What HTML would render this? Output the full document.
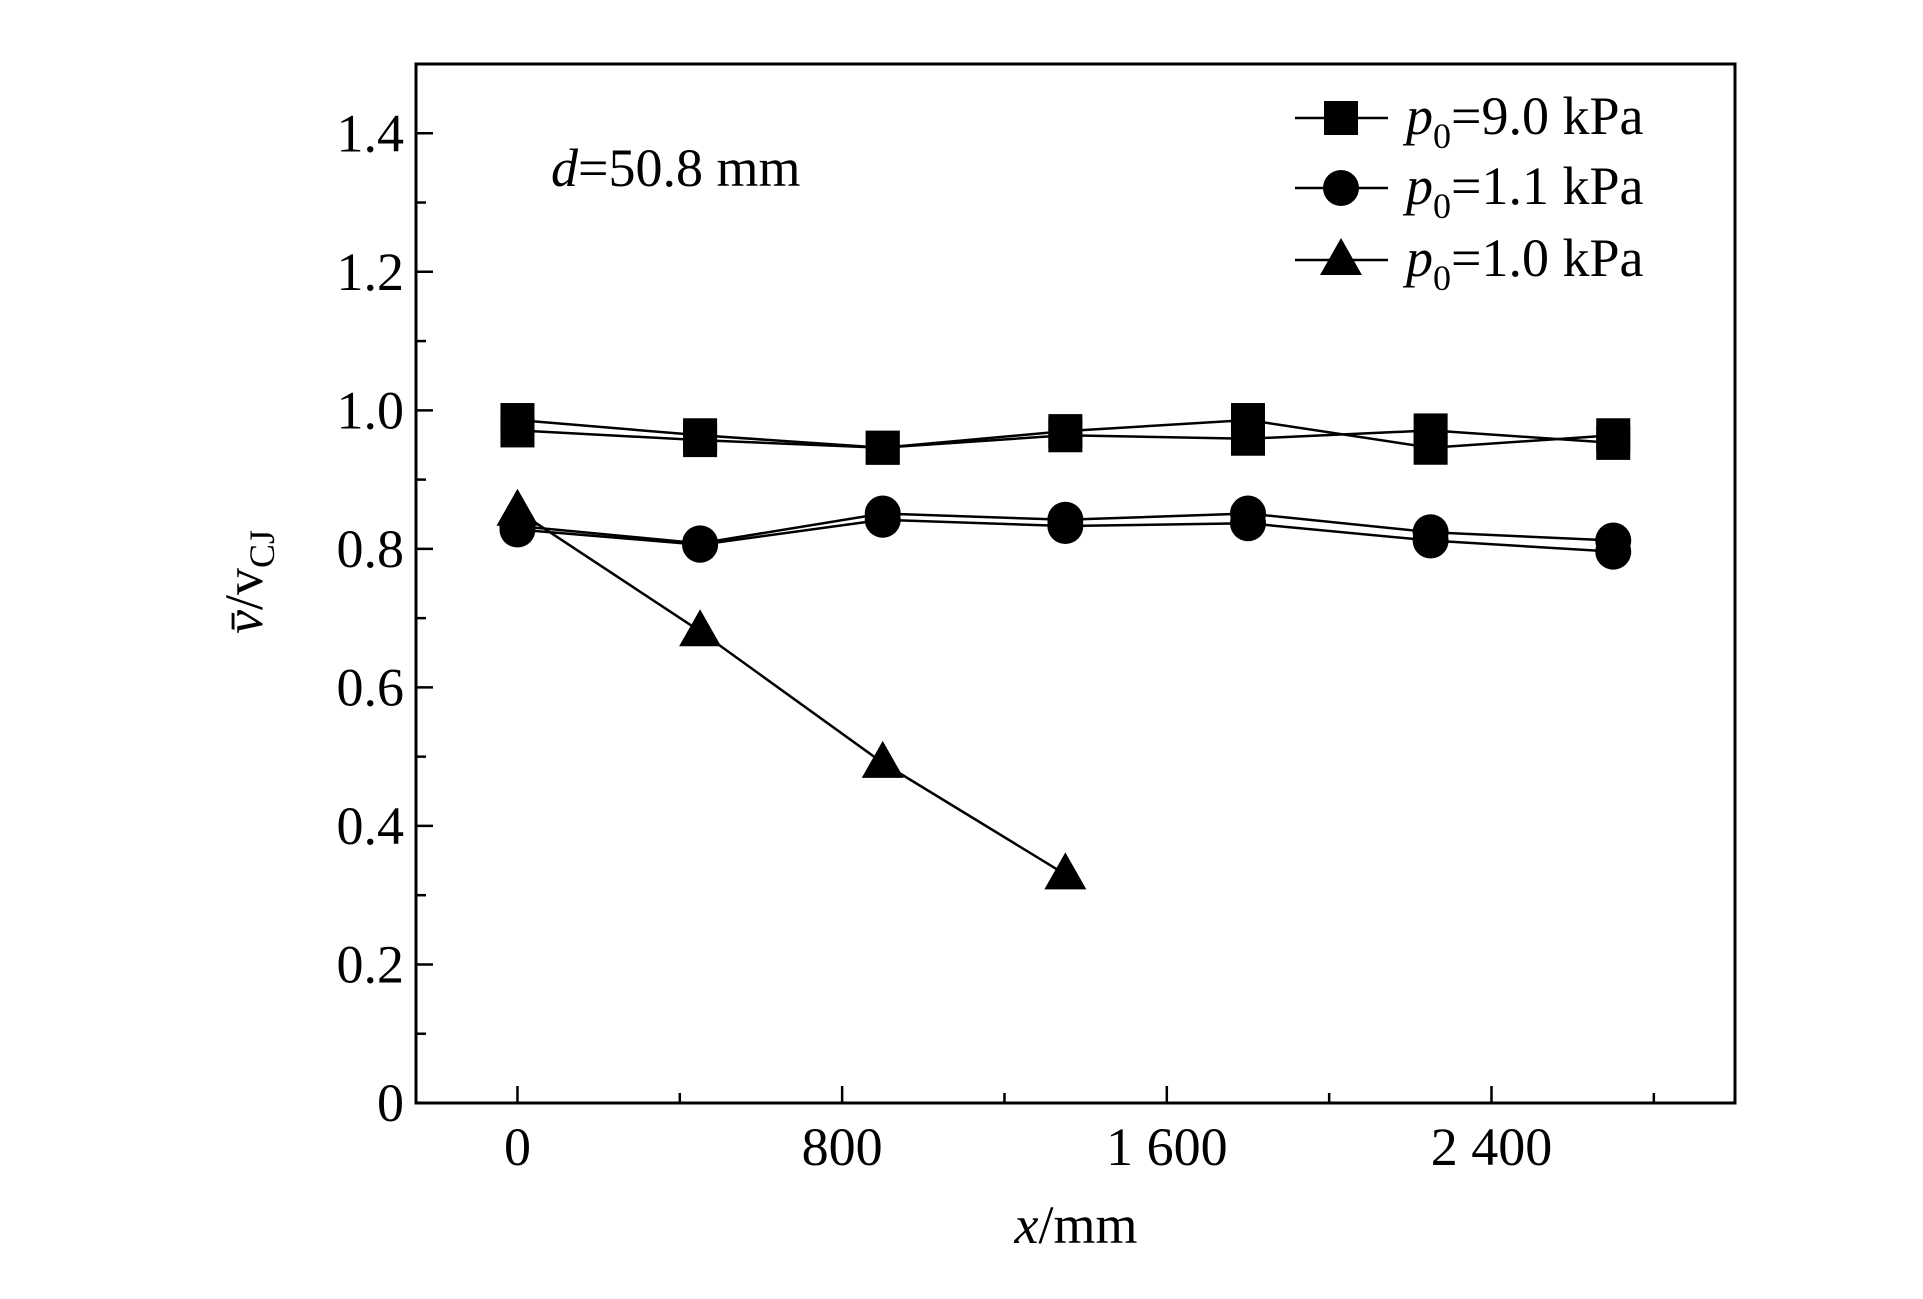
<!DOCTYPE html>
<html><head><meta charset="utf-8"><style>
html,body{margin:0;padding:0;background:#fff;}
svg{display:block;font-family:"Liberation Serif",serif;}
</style></head><body>
<svg id="chart" width="1923" height="1299" viewBox="0 0 1923 1299" xmlns="http://www.w3.org/2000/svg">
<rect x="0" y="0" width="1923" height="1299" fill="#fff"/>
<g id="marks"></g>
<g id="axes"></g>
<text x="551" y="186" font-size="54"><tspan font-style="italic">d</tspan>=50.8 mm</text>
<text x="1076" y="1243" font-size="54" text-anchor="middle"><tspan font-style="italic">x</tspan>/mm</text>
<g transform="translate(262,582) rotate(-90)">
<text x="0" y="0" font-size="54" text-anchor="middle"><tspan font-style="italic">v̄</tspan>/v<tspan font-size="36" dy="12">CJ</tspan></text>
</g>
<g id="legend"></g>
</svg>
<script>
const xValues = [0, 450, 900, 1350, 1800, 2250, 2700];
const sq9A = [0.986, 0.964, 0.946, 0.970, 0.986, 0.946, 0.964];
const sq9B = [0.971, 0.957, 0.946, 0.964, 0.959, 0.971, 0.953];
const ci11A = [0.833, 0.808, 0.851, 0.842, 0.851, 0.824, 0.812];
const ci11B = [0.828, 0.806, 0.842, 0.833, 0.837, 0.812, 0.796];
const triX = [0, 450, 900, 1350];
const tri10 = [0.855, 0.681, 0.491, 0.330];
const yTicks = [0, 0.2, 0.4, 0.6, 0.8, 1.0, 1.2, 1.4];
const yTickLabels = ["0", "0.2", "0.4", "0.6", "0.8", "1.0", "1.2", "1.4"];
const xTicks = [0, 800, 1600, 2400];
const xTickLabels = ["0", "800", "1 600", "2 400"];
const legendLabels = ["=9.0 kPa", "=1.1 kPa", "=1.0 kPa"];

const NS = "http://www.w3.org/2000/svg";
const L = 416, R = 1735, T = 64, B = 1103;
const xMin = -250, xMax = 3000, yMin = 0, yMax = 1.5;
const sx = v => L + (v - xMin) / (xMax - xMin) * (R - L);
const sy = v => B - (v - yMin) / (yMax - yMin) * (B - T);
function mk(tag, attrs, parent) {
  const e = document.createElementNS(NS, tag);
  for (const k in attrs) e.setAttribute(k, attrs[k]);
  parent.appendChild(e);
  return e;
}
const marks = document.getElementById('marks');
const axes = document.getElementById('axes');
const legend = document.getElementById('legend');

function line(xs, ys, name) {
  const p = mk('polyline', {points: xs.map((x, i) => sx(x) + ',' + sy(ys[i])).join(' '), fill: 'none', stroke: '#000', 'stroke-width': 2.5}, marks);
  
  
}
function marker(type, cx, cy, parent, name) {
  let e;
  if (type === 'sq') e = mk('rect', {x: cx - 17, y: cy - 17, width: 34, height: 34, fill: '#000'}, parent);
  else if (type === 'ci') e = mk('circle', {cx: cx, cy: cy, r: 18, fill: '#000'}, parent);
  else e = mk('polygon', {points: `${cx},${cy - 22} ${cx - 21},${cy + 15} ${cx + 21},${cy + 15}`, fill: '#000'}, parent);
  
  
}
line(xValues, sq9A, 'line-9kpa-run-a');
line(xValues, sq9B, 'line-9kpa-run-b');
line(xValues, ci11A, 'line-1-1kpa-run-a');
line(xValues, ci11B, 'line-1-1kpa-run-b');
line(triX, tri10, 'line-1-0kpa');
xValues.forEach((x, i) => { marker('sq', sx(x), sy(sq9A[i]), marks, 'point-9kpa-a'); marker('sq', sx(x), sy(sq9B[i]), marks, 'point-9kpa-b'); });
xValues.forEach((x, i) => { marker('ci', sx(x), sy(ci11A[i]), marks, 'point-1-1kpa-a'); marker('ci', sx(x), sy(ci11B[i]), marks, 'point-1-1kpa-b'); });
triX.forEach((x, i) => marker('tr', sx(x), sy(tri10[i]), marks, 'point-1-0kpa'));

const frame = mk('rect', {x: L, y: T, width: R - L, height: B - T, fill: 'none', stroke: '#000', 'stroke-width': 3}, axes);


for (let v = 0; v <= 1.45; v += 0.1) {
  const major = Math.round(v * 10) % 2 === 0;
  const t = mk('line', {x1: L, x2: L + (major ? 17 : 10), y1: sy(v), y2: sy(v), stroke: '#000', 'stroke-width': 2.5}, axes);
  
  
}
yTicks.forEach((v, i) => {
  const t = mk('text', {x: 404, y: sy(v) + 18, 'font-size': 54, 'text-anchor': 'end'}, axes);
  t.textContent = yTickLabels[i];
  
  
});
for (let v = 0; v <= 2800; v += 400) {
  const major = v % 800 === 0;
  const t = mk('line', {x1: sx(v), x2: sx(v), y1: B, y2: B - (major ? 17 : 10), stroke: '#000', 'stroke-width': 2.5}, axes);
  
  
}
xTicks.forEach((v, i) => {
  const t = mk('text', {x: sx(v), y: 1165, 'font-size': 54, 'text-anchor': 'middle'}, axes);
  t.textContent = xTickLabels[i];
  
  
});
const legTypes = ['sq', 'ci', 'tr'];
const legY = [118, 188, 260];
legTypes.forEach((tp, i) => {
  const g = mk('g', {}, legend);
  
  
  mk('line', {x1: 1295, x2: 1388, y1: legY[i], y2: legY[i], stroke: '#000', 'stroke-width': 2.5}, g);
  marker(tp, 1341, legY[i], g, 'legend-marker');
  const t = mk('text', {x: 1406, y: legY[i] + 16, 'font-size': 54}, g);
  t.innerHTML = '<tspan font-style="italic">p</tspan><tspan font-size="36" dy="14">0</tspan><tspan dy="-14">' + legendLabels[i] + '</tspan>';
});
</script>
</body></html>
